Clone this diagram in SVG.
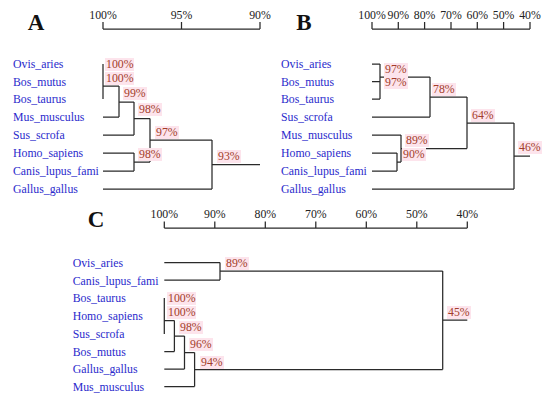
<svg xmlns="http://www.w3.org/2000/svg" width="550" height="398" viewBox="0 0 550 398" font-family="'Liberation Serif','Times New Roman',serif">
<style>
text{font-family:"Liberation Serif","Times New Roman",serif;font-size:11.8px}
.leaf{fill:#2a2acc}
.pct{fill:#a33d2b}
.ax{fill:#222;text-anchor:middle}
.big{font-size:23px;font-weight:bold;fill:#111;text-anchor:middle}
.hl{fill:#fde4ec}
.ln{fill:none;stroke:#2a2a2a;stroke-width:1.25}
</style>
<rect width="550" height="398" fill="#fff"/>
<!-- Panel letters -->
<text class="big" x="36" y="30">A</text>
<text class="big" x="304" y="30">B</text>
<text class="big" x="96" y="227">C</text>
<!-- Axes -->
<g id="axisA">
<path class="ln" d="M103,29H260M103,22V29M181.5,22V29M260,22V29"/>
<text class="ax" x="103" y="19">100%</text><text class="ax" x="181.5" y="19">95%</text><text class="ax" x="260" y="19">90%</text>
</g>
<g id="axisB">
<path class="ln" d="M372,29H530M372,22V29M398.3,22V29M424.6,22V29M451,22V29M477.3,22V29M503.6,22V29M530,22V29"/>
<text class="ax" x="372" y="19">100%</text><text class="ax" x="398.3" y="19">90%</text><text class="ax" x="424.6" y="19">80%</text><text class="ax" x="451" y="19">70%</text><text class="ax" x="477.3" y="19">60%</text><text class="ax" x="503.6" y="19">50%</text><text class="ax" x="530" y="19">40%</text>
</g>
<g id="axisC">
<path class="ln" d="M164.3,228H467.3M164.3,221.5V228M214.8,221.5V228M265.3,221.5V228M315.8,221.5V228M366.3,221.5V228M416.8,221.5V228M467.3,221.5V228"/>
<text class="ax" x="164.3" y="218">100%</text><text class="ax" x="214.8" y="218">90%</text><text class="ax" x="265.3" y="218">80%</text><text class="ax" x="315.8" y="218">70%</text><text class="ax" x="366.3" y="218">60%</text><text class="ax" x="416.8" y="218">50%</text><text class="ax" x="467.3" y="218">40%</text>
</g>
<!-- Connectors -->
<g id="connectors" class="ln">
<path d="M103,64V99M103,86H119M103,117H119M119,86V117M119,102H134M103,135H134M134,102V135M134,118.5H150M103,153H134M103,171H134M134,153V171M134,162H150M150,118.5V162M150,140H212M103,189H212M212,140V189M212,164.5H260"/>
<path d="M372,64H380M372,81.5H380M372,99H380M380,64V99M380,77H430M372,117H430M430,77V117M430,97H467M372,135H401M372,153H397M372,171H397M397,153V171M397,162H401M401,135V162M401,148.5H467M467,97V148.5M467,123H514M372,189H514M514,123V189M514,156H530"/>
<path d="M164.3,262.5H220M164.3,280H220M220,262.5V280M220,271H442.7M164.3,298V334M164.3,320.5H174.4M164.3,351.5H174.4M174.4,320.5V351.5M174.4,336H184.5M164.3,369H184.5M184.5,336V369M184.5,352.5H194.6M164.3,386.5H194.6M194.6,352.5V386.5M194.6,369.5H442.7M442.7,271V369.5M442.7,320H467.3"/>
</g>
<!-- Panel A leaves -->
<g id="A_leaves" class="leaf">
<g id="A_Ovis_aries"><text x="13" y="68">Ovis_aries</text></g>
<g id="A_Bos_mutus"><text x="13" y="85.5">Bos_mutus</text></g>
<g id="A_Bos_taurus"><text x="13" y="103">Bos_taurus</text></g>
<g id="A_Mus_musculus"><text x="13" y="121">Mus_musculus</text></g>
<g id="A_Sus_scrofa"><text x="13" y="139">Sus_scrofa</text></g>
<g id="A_Homo_sapiens"><text x="13" y="157">Homo_sapiens</text></g>
<g id="A_Canis"><text x="13" y="175">Canis_lupus_fami</text></g>
<g id="A_Gallus_gallus"><text x="13" y="193">Gallus_gallus</text></g>
</g>
<g id="A_nodes">
<g id="A_n1"><rect class="hl" x="105" y="58" width="29" height="13"/><text class="pct" x="106" y="68">100%</text></g>
<g id="A_n2"><rect class="hl" x="105" y="72" width="29" height="13"/><text class="pct" x="106" y="82">100%</text></g>
<g id="A_n3"><rect class="hl" x="123" y="87" width="24" height="13"/><text class="pct" x="124" y="97">99%</text></g>
<g id="A_n4"><rect class="hl" x="138" y="103" width="24" height="13"/><text class="pct" x="139" y="113">98%</text></g>
<g id="A_n5"><rect class="hl" x="155" y="126" width="24" height="13"/><text class="pct" x="156" y="136">97%</text></g>
<g id="A_n6"><rect class="hl" x="138" y="148" width="24" height="13"/><text class="pct" x="139" y="158">98%</text></g>
<g id="A_n7"><rect class="hl" x="217" y="150" width="24" height="13"/><text class="pct" x="218" y="160">93%</text></g>
</g>
<!-- Panel B leaves -->
<g id="B_leaves" class="leaf">
<g id="B_Ovis_aries"><text x="281" y="68">Ovis_aries</text></g>
<g id="B_Bos_mutus"><text x="281" y="85.5">Bos_mutus</text></g>
<g id="B_Bos_taurus"><text x="281" y="103">Bos_taurus</text></g>
<g id="B_Sus_scrofa"><text x="281" y="121">Sus_scrofa</text></g>
<g id="B_Mus_musculus"><text x="281" y="139">Mus_musculus</text></g>
<g id="B_Homo_sapiens"><text x="281" y="157">Homo_sapiens</text></g>
<g id="B_Canis"><text x="281" y="175">Canis_lupus_fami</text></g>
<g id="B_Gallus_gallus"><text x="281" y="193">Gallus_gallus</text></g>
</g>
<g id="B_nodes">
<g id="B_n1"><rect class="hl" x="384" y="63" width="24" height="13"/><text class="pct" x="385" y="73">97%</text></g>
<g id="B_n2"><rect class="hl" x="384" y="76" width="24" height="13"/><text class="pct" x="385" y="86">97%</text></g>
<g id="B_n3"><rect class="hl" x="432" y="83" width="24" height="13"/><text class="pct" x="433" y="93">78%</text></g>
<g id="B_n4"><rect class="hl" x="471" y="109" width="24" height="13"/><text class="pct" x="472" y="119">64%</text></g>
<g id="B_n5"><rect class="hl" x="405" y="134" width="24" height="13"/><text class="pct" x="406" y="144">89%</text></g>
<g id="B_n6"><rect class="hl" x="402" y="148" width="24" height="13"/><text class="pct" x="403" y="158">90%</text></g>
<g id="B_n7"><rect class="hl" x="518" y="141" width="24" height="13"/><text class="pct" x="519" y="151">46%</text></g>
</g>
<!-- Panel C leaves -->
<g id="C_leaves" class="leaf">
<g id="C_Ovis_aries"><text x="72.7" y="267">Ovis_aries</text></g>
<g id="C_Canis"><text x="72.7" y="284.5">Canis_lupus_fami</text></g>
<g id="C_Bos_taurus"><text x="72.7" y="302">Bos_taurus</text></g>
<g id="C_Homo_sapiens"><text x="72.7" y="320">Homo_sapiens</text></g>
<g id="C_Sus_scrofa"><text x="72.7" y="338">Sus_scrofa</text></g>
<g id="C_Bos_mutus"><text x="72.7" y="355.5">Bos_mutus</text></g>
<g id="C_Gallus_gallus"><text x="72.7" y="373">Gallus_gallus</text></g>
<g id="C_Mus_musculus"><text x="72.7" y="390.5">Mus_musculus</text></g>
</g>
<g id="C_nodes">
<g id="C_n1"><rect class="hl" x="225" y="257" width="24" height="13"/><text class="pct" x="226" y="267">89%</text></g>
<g id="C_n2"><rect class="hl" x="167" y="292" width="29" height="13"/><text class="pct" x="168" y="302">100%</text></g>
<g id="C_n3"><rect class="hl" x="167" y="306" width="29" height="13"/><text class="pct" x="168" y="316">100%</text></g>
<g id="C_n4"><rect class="hl" x="179" y="321" width="24" height="13"/><text class="pct" x="180" y="331">98%</text></g>
<g id="C_n5"><rect class="hl" x="189" y="338" width="24" height="13"/><text class="pct" x="190" y="348">96%</text></g>
<g id="C_n6"><rect class="hl" x="200" y="356" width="24" height="13"/><text class="pct" x="201" y="366">94%</text></g>
<g id="C_n7"><rect class="hl" x="447" y="306" width="24" height="13"/><text class="pct" x="448" y="316">45%</text></g>
</g>
</svg>
